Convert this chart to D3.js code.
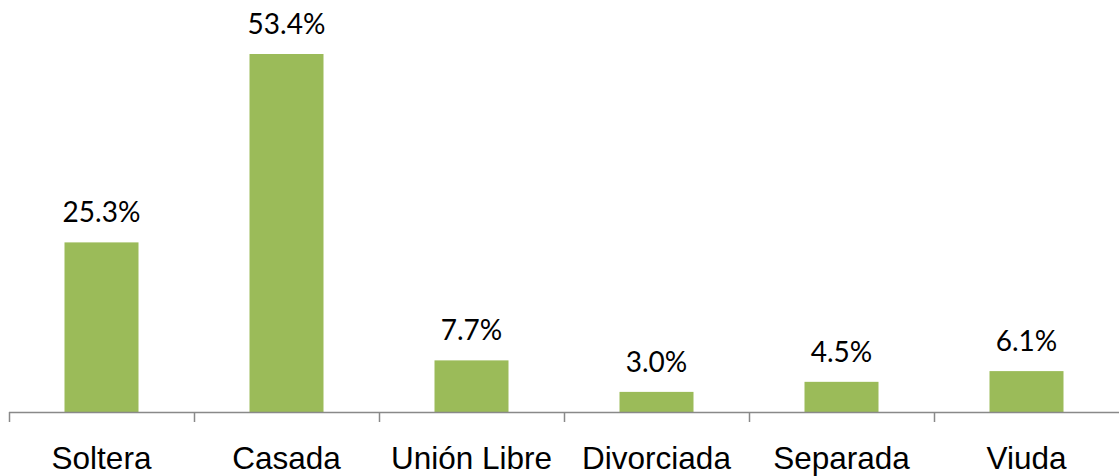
<!DOCTYPE html>
<html>
<head>
<meta charset="utf-8">
<script src="https://cdn.jsdelivr.net/npm/d3@7"></script>
<style>
  body { margin: 0; background: #fff; }
  svg { display: block; }
</style>
</head>
<body>
<svg id="chart" width="1119" height="476"></svg>
<script>
// data
const categories = ['Soltera', 'Casada', 'Unión Libre', 'Divorciada', 'Separada', 'Viuda'];
const values = [25.3, 53.4, 7.7, 3.0, 4.5, 6.1];

const svg = d3.select('#chart');
const W = 1119, left = 9, baseY = 412;

// one slot per category, bars take 40% of the slot
const x = d3.scaleBand()
    .domain(categories)
    .range([left, W])
    .paddingInner(0)
    .paddingOuter(0);
const step = x.step();
const barW = step * 0.4;
const cx = d => x(d) + step / 2;

const y = d3.scaleLinear().domain([0, 60]).range([baseY, baseY - 60 * 6.704]);

// bars
svg.selectAll('rect.bar')
    .data(values)
    .enter()
    .append('rect')
    .attr('class', 'bar')
    .attr('x', (d, i) => cx(categories[i]) - barW / 2)
    .attr('width', barW)
    .attr('y', d => y(d))
    .attr('height', d => baseY - y(d))
    .attr('fill', '#9BBB59');

// value labels
svg.selectAll('text.val')
    .data(values)
    .enter()
    .append('text')
    .attr('class', 'val')
    .attr('x', (d, i) => cx(categories[i]))
    .attr('y', d => y(d) - 20)
    .attr('text-anchor', 'middle')
    .attr('font-family', 'Lato, "Open Sans", sans-serif')
    .attr('font-size', 28)
    .attr('fill', '#000')
    .text(d => d.toFixed(1) + '%');

// axis line + ticks
const axisG = svg.append('g');
axisG.append('line')
    .attr('x1', left).attr('x2', W)
    .attr('y1', baseY + 0.5).attr('y2', baseY + 0.5)
    .attr('stroke', '#898989').attr('stroke-width', 1.5);

axisG.selectAll('line.tick')
    .data(categories)
    .enter()
    .append('line')
    .attr('class', 'tick')
    .attr('x1', d => Math.round(x(d)) + 0.5)
    .attr('x2', d => Math.round(x(d)) + 0.5)
    .attr('y1', baseY).attr('y2', baseY + 10)
    .attr('stroke', '#898989').attr('stroke-width', 1.5);

// category labels
svg.selectAll('text.cat')
    .data(categories)
    .enter()
    .append('text')
    .attr('class', 'cat')
    .attr('x', d => cx(d))
    .attr('y', 469)
    .attr('text-anchor', 'middle')
    .attr('font-family', '"Liberation Sans", Arial, sans-serif')
    .attr('font-size', 31.5)
    .attr('fill', '#000')
    .text(d => d);
</script>
</body>
</html>
